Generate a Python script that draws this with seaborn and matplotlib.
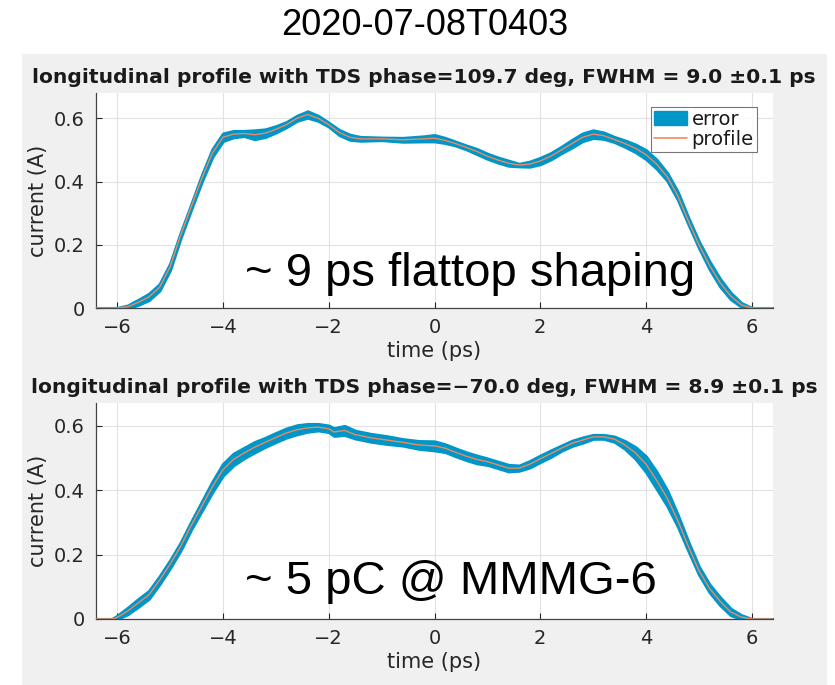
import matplotlib
matplotlib.use("Agg")
import matplotlib.pyplot as plt
from matplotlib.patches import Rectangle, Patch
from matplotlib.lines import Line2D
import seaborn as sns

# profile 1: TDS phase = 109.7 deg
t_top = [-6.4, -6.0, -5.8, -5.6, -5.4, -5.2, -5.0, -4.8, -4.6, -4.4, -4.2, -4.0,
         -3.8, -3.6, -3.4, -3.2, -3.0, -2.8, -2.6, -2.4, -2.2, -2.0, -1.8, -1.6,
         -1.4, -1.0, -0.6, -0.2, 0.0, 0.2, 0.4, 0.6, 0.8, 1.0, 1.2, 1.4, 1.6, 1.8,
         2.0, 2.2, 2.4, 2.6, 2.8, 3.0, 3.2, 3.4, 3.6, 3.8, 4.0, 4.2, 4.4, 4.6, 4.8,
         5.0, 5.2, 5.4, 5.6, 5.8, 6.0, 6.4]
i_top = [0.0, 0.0, 0.004, 0.018, 0.035, 0.065, 0.13, 0.23, 0.32, 0.41, 0.49, 0.54,
         0.55, 0.552, 0.548, 0.553, 0.565, 0.58, 0.60, 0.612, 0.60, 0.58, 0.555, 0.54,
         0.535, 0.535, 0.532, 0.535, 0.537, 0.53, 0.52, 0.508, 0.495, 0.48, 0.468, 0.458, 0.452, 0.455,
         0.465, 0.48, 0.50, 0.52, 0.54, 0.55, 0.545, 0.533, 0.52, 0.505, 0.485, 0.455, 0.415, 0.355, 0.275,
         0.20, 0.135, 0.08, 0.038, 0.01, 0.0, 0.0]
e_top = [0.0, 0.0, 0.004, 0.008, 0.010, 0.010, 0.010, 0.008, 0.008, 0.010, 0.012, 0.012,
         0.010, 0.008, 0.014, 0.012, 0.010, 0.008, 0.008, 0.010, 0.008, 0.006, 0.008, 0.008,
         0.006, 0.004, 0.006, 0.008, 0.010, 0.008, 0.006, 0.006, 0.008, 0.008, 0.008, 0.008, 0.004, 0.008,
         0.010, 0.010, 0.010, 0.012, 0.012, 0.012, 0.010, 0.008, 0.010, 0.012, 0.014, 0.014, 0.012, 0.012, 0.010,
         0.010, 0.012, 0.012, 0.010, 0.006, 0.0, 0.0]

# profile 2: TDS phase = -70.0 deg
t_bot = [-6.4, -6.1, -6.0, -5.8, -5.6, -5.4, -5.2, -5.0, -4.8, -4.6, -4.4, -4.2, -4.0,
         -3.8, -3.6, -3.4, -3.2, -3.0, -2.8, -2.6, -2.4, -2.2, -2.0, -1.9, -1.7, -1.5,
         -1.2, -0.9, -0.6, -0.3, 0.0, 0.2, 0.4, 0.6, 0.8, 1.0, 1.2, 1.4, 1.6, 1.8, 2.0,
         2.2, 2.4, 2.6, 2.8, 3.0, 3.2, 3.4, 3.6, 3.8, 4.0, 4.2, 4.4, 4.6, 4.8, 5.0, 5.2,
         5.4, 5.6, 5.8, 6.0, 6.4]
i_bot = [0.0, 0.0, 0.005, 0.025, 0.05, 0.075, 0.12, 0.17, 0.225, 0.29, 0.35, 0.41, 0.463,
         0.495, 0.515, 0.533, 0.548, 0.563, 0.577, 0.587, 0.593, 0.595, 0.59, 0.58, 0.585, 0.572,
         0.562, 0.555, 0.548, 0.54, 0.537, 0.53, 0.517, 0.505, 0.495, 0.488, 0.478, 0.468, 0.468, 0.48, 0.497,
         0.513, 0.53, 0.545, 0.555, 0.565, 0.565, 0.558, 0.54, 0.515, 0.48, 0.43, 0.375, 0.305, 0.225, 0.15, 0.095,
         0.055, 0.022, 0.006, 0.0, 0.0]
e_bot = [0.0, 0.0, 0.005, 0.010, 0.012, 0.012, 0.012, 0.012, 0.012, 0.012, 0.014, 0.016, 0.018,
         0.018, 0.016, 0.016, 0.014, 0.014, 0.014, 0.014, 0.012, 0.010, 0.010, 0.012, 0.014, 0.012,
         0.012, 0.012, 0.010, 0.012, 0.014, 0.012, 0.012, 0.012, 0.012, 0.010, 0.010, 0.010, 0.008, 0.010, 0.010,
         0.010, 0.008, 0.008, 0.008, 0.006, 0.006, 0.008, 0.012, 0.018, 0.024, 0.026, 0.024, 0.018, 0.014, 0.012, 0.012,
         0.012, 0.010, 0.006, 0.0, 0.0]

titles = ["longitudinal profile with TDS phase=109.7 deg, FWHM = 9.0 \u00b10.1 ps",
          "longitudinal profile with TDS phase=\u221270.0 deg, FWHM = 8.9 \u00b10.1 ps"]
notes = ["~ 9 ps flattop shaping", "~ 5 pC @ MMMG-6"]
x_ticks = [-6, -4, -2, 0, 2, 4, 6]
y_ticks = [0, 0.2, 0.4, 0.6]

band_color = "#0096C8"
line_color = "#EC8A62"

sns.set_style("whitegrid")
plt.rcParams['font.family'] = ['DejaVu Sans']
plt.rcParams['axes.unicode_minus'] = True

fig = plt.figure(figsize=(8.35, 6.85), dpi=100)
fig.patch.set_facecolor("white")
fig.patches.append(Rectangle((22 / 835, 0), 805 / 835, 1 - 54 / 685,
                             transform=fig.transFigure, facecolor="#F0F0F0",
                             edgecolor="none", zorder=-10))

ax1 = fig.add_axes([96 / 835, 1 - 308 / 685, 677 / 835, 215 / 685])
ax2 = fig.add_axes([96 / 835, 1 - 619 / 685, 677 / 835, 216 / 685])

data = [(t_top, i_top, e_top, 0.68), (t_bot, i_bot, e_bot, 0.67)]
for ax, (t, i, e, ytop), title in zip([ax1, ax2], data, titles):
    lo = [a - b for a, b in zip(i, e)]
    hi = [a + b for a, b in zip(i, e)]
    ax.fill_between(t, lo, hi, color=band_color, linewidth=2.2, edgecolor=band_color, zorder=2)
    sns.lineplot(x=t, y=i, ax=ax, color=line_color, linewidth=1.0, zorder=3)
    ax.set_xlim(-6.4, 6.4)
    ax.set_ylim(0, ytop)
    ax.set_xticks(x_ticks)
    ax.set_xticklabels(["\u22126", "\u22124", "\u22122", "0", "2", "4", "6"])
    ax.set_yticks(y_ticks)
    ax.set_yticklabels(["0", "0.2", "0.4", "0.6"])
    ax.set_facecolor("white")
    ax.grid(True, color="#E2E2E2", linewidth=0.8)
    for s in ["top", "right"]:
        ax.spines[s].set_visible(False)
    for s in ["left", "bottom"]:
        ax.spines[s].set_color("#444444")
        ax.spines[s].set_linewidth(0.9)
    ax.tick_params(axis="both", labelsize=14, colors="#262626", length=4,
                   direction="in")
    ax.tick_params(axis="y", pad=8)
    ax.tick_params(axis="x", pad=7)
    ax.tick_params(axis="both", which="both", bottom=True, left=True)
    ax.set_xlabel("time (ps)", fontsize=15, color="#262626", labelpad=3)
    ax.set_ylabel("current (A)", fontsize=15, color="#262626", labelpad=4)
    ax.set_title(title, fontsize=14.6, fontweight="bold", color="#1a1a1a",
                 pad=7, x=(424 - 96) / 677)

handles = [Patch(facecolor=band_color, edgecolor=band_color, label="error"),
           Line2D([0], [0], color=line_color, linewidth=1.2, label="profile")]
leg = ax1.legend(handles=handles, loc="upper right", bbox_to_anchor=(0.976, 0.935),
                 fontsize=14, frameon=True, fancybox=False, borderpad=0.15,
                 handlelength=1.7, handletextpad=0.25, labelspacing=0.05,
                 borderaxespad=0)
leg.get_frame().set_edgecolor("#555555")
leg.get_frame().set_linewidth(0.8)
for txt in leg.get_texts():
    txt.set_color("#1a1a1a")

fig.text(0.509, 1 - 35 / 685, "2020-07-08T0403", family="Liberation Sans",
         fontsize=26, ha="center", va="baseline", color="black")
fig.text(245 / 835, 1 - 286 / 685, notes[0], family="Liberation Sans",
         fontsize=34, ha="left", va="baseline", zorder=5, color="black")
fig.text(245 / 835, 1 - 594 / 685, notes[1], family="Liberation Sans",
         fontsize=34, ha="left", va="baseline", zorder=5, color="black")

fig.savefig("out.png", dpi=100)
